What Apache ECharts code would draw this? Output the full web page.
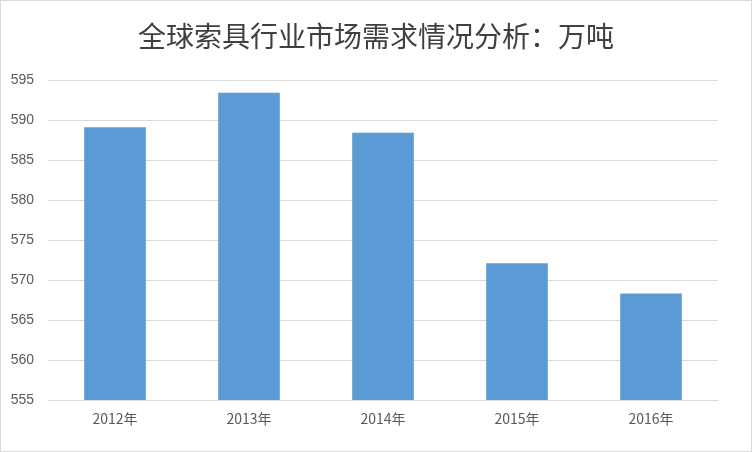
<!DOCTYPE html>
<html>
<head>
<meta charset="utf-8">
<style>
	html,body{margin:0;padding:0;background:#fff;}
	#chart{width:750px;height:450px;border:1px solid #d9d9d9;}
</style>
</head>
<body>
<div id="chart"></div>
<script src="https://cdn.jsdelivr.net/npm/echarts@6/dist/echarts.min.js"></script>
<script>
	var years = ['2012年', '2013年', '2014年', '2015年', '2016年'];
	var demand = [589.1, 593.4, 588.4, 572.1, 568.3];

	var chart = echarts.init(document.getElementById('chart'));
	chart.setOption({
		animation: false,
		title: {
			text: '全球索具行业市场需求情况分析：万吨',
			left: 'center',
			top: 16,
			textStyle: {
				fontFamily: 'Noto Sans CJK SC',
				fontSize: 28,
				fontWeight: 'normal',
				color: '#404040'
			}
		},
		grid: {left: 47, right: 33, top: 79, bottom: 51},
		xAxis: {
			type: 'category',
			data: years,
			axisTick: {show: false},
			axisLine: {lineStyle: {color: '#d9d9d9'}},
			axisLabel: {color: '#595959', fontSize: 14, margin: 12, fontFamily: 'Noto Sans CJK SC'}
		},
		yAxis: {
			type: 'value',
			min: 555,
			max: 595,
			interval: 5,
			axisLabel: {color: '#595959', fontSize: 14, margin: 14},
			splitLine: {lineStyle: {color: '#d9d9d9'}}
		},
		series: [{
			type: 'bar',
			data: demand,
			barWidth: '46%',
			itemStyle: {color: '#5b9bd5'}
		}]
	});
</script>
</body>
</html>
